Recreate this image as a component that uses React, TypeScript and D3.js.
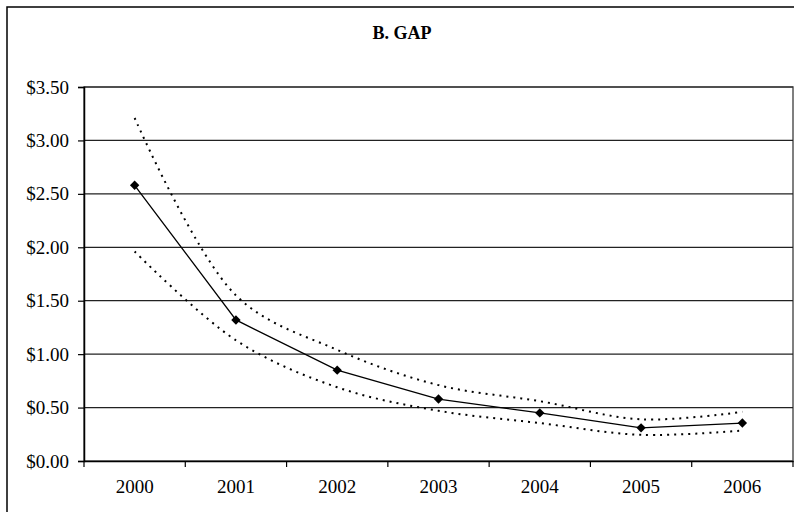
import React, { useEffect, useRef } from "react";
import * as d3 from "d3";

const years = ["2000", "2001", "2002", "2003", "2004", "2005", "2006"];
const gapValues = [2.58, 1.32, 0.85, 0.58, 0.45, 0.31, 0.355];
const upperValues = [3.21, 1.55, 1.04, 0.71, 0.56, 0.39, 0.46];
const lowerValues = [1.96, 1.13, 0.69, 0.47, 0.355, 0.245, 0.285];
const yTicks = [0, 0.5, 1, 1.5, 2, 2.5, 3, 3.5];

const FONT = "Liberation Serif";

const App = () => {
  const ref = useRef<SVGSVGElement>(null);

  useEffect(() => {
    const svg = d3.select(ref.current);
    svg.selectAll("*").remove();

    const width = 794,
      height = 512;
    const left = 84,
      right = 793,
      top = 87,
      bottom = 461;

    // outer chart frame
    svg
      .append("rect")
      .attr("x", 7)
      .attr("y", 7)
      .attr("width", width + 10)
      .attr("height", height + 10)
      .attr("fill", "white")
      .attr("stroke", "black")
      .attr("stroke-width", 1.5);

    svg
      .append("text")
      .attr("x", 402)
      .attr("y", 39)
      .attr("text-anchor", "middle")
      .attr("font-family", FONT)
      .attr("font-weight", "bold")
      .attr("font-size", 18)
      .text("B. GAP");

    const x = d3.scaleBand().domain(years).range([left, right]);
    const y = d3.scaleLinear().domain([0, 3.5]).range([bottom, top]);

    // plot area border
    svg
      .append("rect")
      .attr("x", left)
      .attr("y", top)
      .attr("width", right - left)
      .attr("height", bottom - top)
      .attr("fill", "none")
      .attr("stroke", "#555")
      .attr("stroke-width", 1.5);

    // gridlines
    svg
      .append("g")
      .selectAll("line")
      .data(yTicks.filter((t) => t > 0))
      .enter()
      .append("line")
      .attr("x1", left)
      .attr("x2", right)
      .attr("y1", (d) => y(d))
      .attr("y2", (d) => y(d))
      .attr("stroke", "#222")
      .attr("stroke-width", 1.2);

    // y axis
    const yAxis = svg
      .append("g")
      .attr("transform", `translate(${left},0)`)
      .call(
        d3
          .axisLeft(y)
          .tickValues(yTicks)
          .tickSize(6)
          .tickPadding(9)
          .tickFormat((d) => "$" + (d as number).toFixed(2)),
      )
      .attr("font-family", FONT)
      .attr("font-size", 19);
    yAxis.select(".domain").attr("stroke", "black").attr("stroke-width", 1.5);
    yAxis.selectAll(".tick line").attr("stroke", "black").attr("stroke-width", 1.2);
    yAxis.selectAll("text").attr("fill", "black");

    // x axis
    const xAxis = svg
      .append("g")
      .attr("transform", `translate(0,${bottom})`)
      .call(d3.axisBottom(x).tickSize(0).tickPadding(19))
      .attr("font-family", FONT)
      .attr("font-size", 19);
    xAxis.select(".domain").attr("stroke", "black").attr("stroke-width", 1.5);
    xAxis.selectAll("text").attr("fill", "black");
    // category boundary ticks
    xAxis
      .selectAll("line.bound")
      .data(d3.range(years.length + 1))
      .enter()
      .append("line")
      .attr("class", "bound")
      .attr("x1", (i) => left + i * x.step())
      .attr("x2", (i) => left + i * x.step())
      .attr("y1", 0)
      .attr("y2", 6)
      .attr("stroke", "black")
      .attr("stroke-width", 1.2);

    const cx = (i: number) => (x(years[i]) as number) + x.bandwidth() / 2;

    const dotted = d3
      .line<number>()
      .x((_, i) => cx(i))
      .y((d) => y(d))
      .curve(d3.curveCatmullRom.alpha(0.5));

    [upperValues, lowerValues].forEach((vals) => {
      svg
        .append("path")
        .attr("d", dotted(vals))
        .attr("fill", "none")
        .attr("stroke", "black")
        .attr("stroke-width", 2)
        .attr("stroke-dasharray", "2,5");
    });

    const solid = d3
      .line<number>()
      .x((_, i) => cx(i))
      .y((d) => y(d));

    svg
      .append("path")
      .attr("d", solid(gapValues))
      .attr("fill", "none")
      .attr("stroke", "black")
      .attr("stroke-width", 1.3);

    const diamond = d3.symbol().type(d3.symbolSquare).size(44);
    svg
      .append("g")
      .selectAll("path")
      .data(gapValues)
      .enter()
      .append("path")
      .attr("d", diamond)
      .attr("transform", (d, i) => `translate(${cx(i)},${y(d)}) rotate(45)`)
      .attr("fill", "black");
  }, []);

  return (
    <svg
      ref={ref}
      width={794}
      height={512}
      style={{ position: "absolute", left: 0, top: 0, background: "white" }}
    />
  );
};

export default App;
